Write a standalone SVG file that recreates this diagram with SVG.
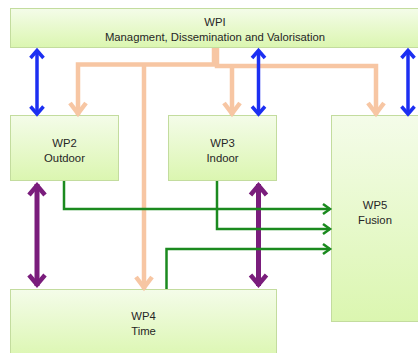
<svg xmlns="http://www.w3.org/2000/svg" width="418" height="353" viewBox="0 0 418 353">
  <defs>
    <linearGradient id="boxfill" x1="0" y1="0" x2="0" y2="1">
      <stop offset="0" stop-color="#f4fce9"/>
      <stop offset="1" stop-color="#dbf6b0"/>
    </linearGradient>
    <marker id="mBlue" markerUnits="userSpaceOnUse" viewBox="-12 -10 16 20" refX="0" refY="0" markerWidth="16" markerHeight="20" orient="auto-start-reverse" overflow="visible">
      <path d="M-7.5,-6.5 L0,0 L-7.5,6.5" fill="none" stroke="#1c2ff2" stroke-width="3.5" stroke-linejoin="miter"/>
    </marker>
    <marker id="mPeach" markerUnits="userSpaceOnUse" viewBox="-16 -12 20 24" refX="0" refY="0" markerWidth="20" markerHeight="24" orient="auto" overflow="visible">
      <path d="M-12,-8 L-1.5,0 L-12,8" fill="none" stroke="#f7c6a3" stroke-width="4.5" stroke-linejoin="miter"/>
    </marker>
    <marker id="mPurple" markerUnits="userSpaceOnUse" viewBox="-16 -12 20 24" refX="0" refY="0" markerWidth="20" markerHeight="24" orient="auto-start-reverse" overflow="visible">
      <path d="M-11,-8 L-1.5,0 L-11,8" fill="none" stroke="#7a1d7c" stroke-width="4.5" stroke-linejoin="miter"/>
    </marker>
    <marker id="mGreen" markerUnits="userSpaceOnUse" viewBox="-10 -8 12 16" refX="0" refY="0" markerWidth="12" markerHeight="16" orient="auto" overflow="visible">
      <path d="M-7,-5 L0,0 L-7,5" fill="none" stroke="#1b8a1f" stroke-width="2.5" stroke-linejoin="miter"/>
    </marker>
  </defs>
  <style>
    .box { fill: url(#boxfill); stroke: #c3dc9e; stroke-width: 1; }
    .lbl { font-family: "Liberation Sans", Arial, sans-serif; font-size: 11.3px; fill: #262626; text-anchor: middle; }
    .blue { fill: none; stroke: #1c2ff2; stroke-width: 3.5; marker-start: url(#mBlue); marker-end: url(#mBlue); }
    .peach { fill: none; stroke: #f7c6a3; stroke-width: 4.5; }
    .peachA { marker-end: url(#mPeach); }
    .purple { fill: none; stroke: #7a1d7c; stroke-width: 5; marker-start: url(#mPurple); marker-end: url(#mPurple); }
    .green { fill: none; stroke: #1b8a1f; stroke-width: 2.5; marker-end: url(#mGreen); }
  </style>

  <g id="wp1">
    <rect class="box" x="10.5" y="8.5" width="412" height="39"/>
    <text class="lbl" x="215" y="26">WPI</text>
    <text class="lbl" x="215" y="41">Managment, Dissemination and Valorisation</text>
  </g>
  <g id="wp2">
    <rect class="box" x="10.5" y="115.5" width="108" height="65"/>
    <text class="lbl" x="64.5" y="147">WP2</text>
    <text class="lbl" x="64.5" y="162">Outdoor</text>
  </g>
  <g id="wp3">
    <rect class="box" x="168.5" y="115.5" width="108" height="65"/>
    <text class="lbl" x="222.5" y="147">WP3</text>
    <text class="lbl" x="222.5" y="162">Indoor</text>
  </g>
  <g id="wp5">
    <rect class="box" x="331.5" y="115.5" width="92" height="206"/>
    <text class="lbl" x="375" y="209">WP5</text>
    <text class="lbl" x="375" y="224">Fusion</text>
  </g>
  <g id="wp4">
    <rect class="box" x="10.5" y="289.5" width="266" height="70"/>
    <text class="lbl" x="143.5" y="320">WP4</text>
    <text class="lbl" x="143.5" y="335">Time</text>
  </g>

  <g id="connectors">
    <path class="peach peachA" d="M214,48 V64.5 H78 V115"/>
    <path class="peach peachA" d="M217,48 V66 H376 V115"/>
    <path class="peach peachA" d="M232,66 V115"/>
    <path class="peach peachA" d="M144,64.5 V289"/>

    <path class="purple" d="M37,184 V286"/>
    <path class="purple" d="M258.5,184 V286"/>

    <path class="green" d="M64,181 V209 H330"/>
    <path class="green" d="M217,181 V229 H330"/>
    <path class="green" d="M166.5,289 V249 H330"/>

    <path class="blue" d="M37,50.5 V114"/>
    <path class="blue" d="M258.5,50.5 V114"/>
    <path class="blue" d="M408,50.5 V114"/>
  </g>
</svg>
